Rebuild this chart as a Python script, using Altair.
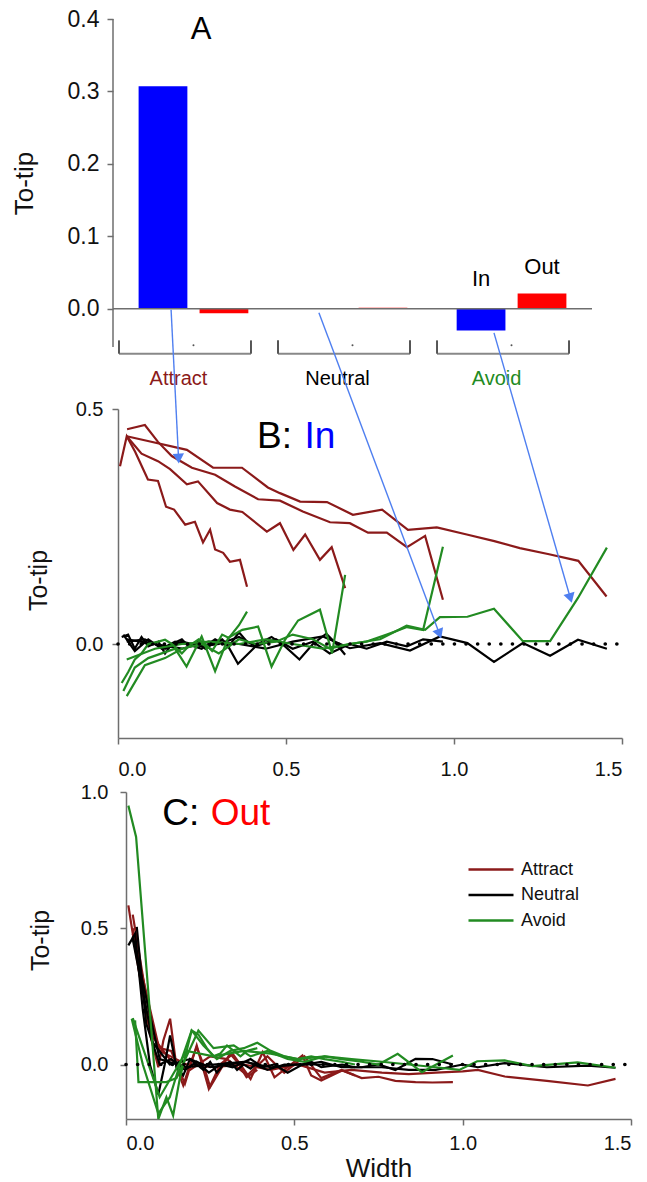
import math
import altair as alt
import pandas as pd

FONT = "Liberation Sans"
GROUPS = ["Attract", "Neutral", "Avoid"]
GROUP_COLORS = ["#8b1a1a", "#000000", "#228b22"]
DIRS = ["In", "Out"]
DIR_COLORS = ["#0000ff", "#ff0000"]
AXIS_GRAY = "#6e6e6e"
ARROW_BLUE = "#4f7ff0"

# ---------------- Panel A : bars ----------------
BAR_GROUP = ["Attract", "Attract", "Neutral", "Neutral", "Avoid", "Avoid"]
BAR_DIR = ["In", "Out", "In", "Out", "In", "Out"]
BAR_VALUE = [0.307, -0.0065, 0.0, 0.0012, -0.030, 0.021]
A_TICKS = [0.0, 0.1, 0.2, 0.3, 0.4]
INOUT_GROUP = ["Avoid", "Avoid"]
INOUT_DIR = ["In", "Out"]
INOUT_Y = [0.041, 0.058]

# ---------------- Panel B : "In" profiles ----------------
BA1_X = [0.006, 0.026, 0.051, 0.089, 0.119, 0.143, 0.167, 0.200, 0.229, 0.253, 0.274, 0.289, 0.313, 0.333, 0.363, 0.384]
BA1_Y = [0.378, 0.442, 0.409, 0.350, 0.347, 0.292, 0.286, 0.254, 0.260, 0.216, 0.243, 0.201, 0.194, 0.175, 0.179, 0.122]
BA2_X = [0.026, 0.070, 0.119, 0.155, 0.205, 0.238, 0.295, 0.333, 0.370, 0.443, 0.482, 0.522, 0.557, 0.601, 0.636, 0.676]
BA2_Y = [0.442, 0.405, 0.389, 0.372, 0.340, 0.346, 0.300, 0.286, 0.281, 0.239, 0.257, 0.200, 0.233, 0.179, 0.206, 0.119]
BA3_X = [0.027, 0.080, 0.119, 0.160, 0.220, 0.289, 0.348, 0.417, 0.482, 0.550, 0.631, 0.690, 0.744, 0.800, 0.860, 0.914, 0.967]
BA3_Y = [0.457, 0.466, 0.430, 0.400, 0.375, 0.360, 0.335, 0.308, 0.305, 0.282, 0.259, 0.257, 0.237, 0.237, 0.206, 0.230, 0.094]
BA4_X = [0.026, 0.089, 0.205, 0.283, 0.369, 0.446, 0.482, 0.542, 0.622, 0.699, 0.786, 0.863, 0.949, 1.038, 1.120, 1.196, 1.283, 1.370, 1.454]
BA4_Y = [0.442, 0.432, 0.413, 0.375, 0.375, 0.333, 0.321, 0.303, 0.302, 0.275, 0.286, 0.243, 0.248, 0.233, 0.219, 0.204, 0.191, 0.177, 0.101]

BN1_X = [0.011, 0.030, 0.050, 0.070, 0.090, 0.120, 0.140, 0.160, 0.190, 0.210, 0.240, 0.260, 0.280, 0.310, 0.330, 0.360, 0.384]
BN1_Y = [0.015, 0.020, -0.010, 0.015, -0.005, 0.005, -0.020, 0.000, 0.010, -0.005, 0.005, -0.010, 0.000, 0.010, -0.005, 0.025, 0.005]
BN2_X = [0.016, 0.050, 0.090, 0.130, 0.170, 0.204, 0.249, 0.289, 0.328, 0.357, 0.417, 0.457, 0.497, 0.540, 0.580, 0.620, 0.650, 0.676]
BN2_Y = [0.020, -0.015, 0.010, -0.010, 0.005, 0.000, -0.010, 0.010, -0.005, -0.042, 0.000, 0.015, -0.005, -0.033, 0.000, 0.022, 0.000, -0.023]
BN3_X = [0.026, 0.080, 0.140, 0.190, 0.250, 0.300, 0.360, 0.410, 0.470, 0.520, 0.580, 0.630, 0.690, 0.740, 0.800, 0.860, 0.908, 0.967]
BN3_Y = [0.005, 0.010, -0.010, 0.005, -0.005, 0.000, 0.015, -0.005, 0.010, -0.010, 0.005, -0.020, 0.000, -0.010, 0.005, -0.005, 0.010, 0.005]
BN4_X = [0.026, 0.110, 0.190, 0.270, 0.360, 0.440, 0.520, 0.610, 0.690, 0.780, 0.869, 0.958, 1.040, 1.119, 1.205, 1.286, 1.369, 1.455]
BN4_Y = [0.010, 0.000, -0.010, 0.005, 0.000, -0.010, 0.005, 0.016, -0.009, 0.002, -0.014, 0.016, 0.002, -0.038, 0.002, -0.025, 0.009, -0.010]

BG1_X = [0.011, 0.030, 0.050, 0.070, 0.090, 0.120, 0.140, 0.160, 0.190, 0.210, 0.240, 0.260, 0.280, 0.310, 0.330, 0.360, 0.384]
BG1_Y = [-0.083, -0.060, -0.033, -0.020, 0.000, 0.005, 0.009, 0.000, -0.020, -0.005, 0.010, 0.000, -0.015, 0.020, 0.013, 0.040, 0.069]
BG2_X = [0.016, 0.050, 0.090, 0.130, 0.170, 0.204, 0.249, 0.289, 0.328, 0.370, 0.417, 0.457, 0.497, 0.536, 0.601, 0.637, 0.676]
BG2_Y = [-0.100, -0.050, -0.030, -0.020, -0.010, -0.048, 0.016, -0.058, 0.013, 0.030, 0.037, -0.048, 0.009, 0.050, 0.073, -0.020, 0.147]
BG3_X = [0.026, 0.080, 0.140, 0.190, 0.250, 0.300, 0.360, 0.410, 0.470, 0.520, 0.580, 0.630, 0.690, 0.740, 0.800, 0.860, 0.908, 0.967]
BG3_Y = [-0.111, -0.045, -0.030, -0.010, 0.000, -0.020, 0.010, 0.000, 0.005, 0.020, 0.010, -0.010, 0.000, 0.005, 0.020, 0.036, 0.030, 0.207]
BG4_X = [0.026, 0.110, 0.190, 0.270, 0.360, 0.440, 0.520, 0.610, 0.690, 0.780, 0.859, 0.914, 0.958, 1.040, 1.119, 1.205, 1.286, 1.369, 1.455]
BG4_Y = [-0.033, -0.010, 0.000, 0.005, 0.000, 0.010, 0.000, -0.010, 0.000, 0.010, 0.039, 0.030, 0.057, 0.058, 0.075, 0.006, 0.006, 0.098, 0.205]

# ---------------- Panel C : "Out" profiles ----------------
CA1_X = [0.007, 0.017, 0.040, 0.061, 0.071, 0.096, 0.111, 0.131, 0.150, 0.170, 0.190, 0.210, 0.230, 0.250, 0.280, 0.309, 0.330, 0.358, 0.390]
CA1_Y = [0.584, 0.504, 0.330, 0.186, 0.113, -0.010, 0.088, 0.168, -0.010, -0.077, 0.000, 0.064, 0.000, -0.083, -0.020, 0.040, 0.010, -0.047, -0.020]
CA2_X = [0.020, 0.060, 0.100, 0.134, 0.175, 0.210, 0.246, 0.280, 0.317, 0.370, 0.406, 0.441, 0.480, 0.524, 0.550, 0.580, 0.642, 0.680]
CA2_Y = [0.500, 0.190, 0.060, 0.050, -0.071, 0.070, -0.089, 0.000, 0.039, -0.053, 0.045, -0.047, -0.010, 0.033, -0.040, -0.059, -0.022, -0.040]
CA3_X = [0.020, 0.080, 0.130, 0.190, 0.250, 0.300, 0.360, 0.420, 0.470, 0.530, 0.580, 0.640, 0.700, 0.750, 0.800, 0.860, 0.910, 0.971]
CA3_Y = [0.550, 0.100, 0.020, -0.020, 0.030, 0.020, -0.040, 0.030, -0.030, 0.030, -0.050, -0.020, -0.050, -0.045, -0.060, -0.065, -0.066, -0.065]
CA4_X = [0.020, 0.100, 0.180, 0.260, 0.350, 0.430, 0.510, 0.590, 0.670, 0.760, 0.840, 0.920, 1.000, 1.045, 1.125, 1.250, 1.372, 1.454]
CA4_Y = [0.480, 0.050, 0.000, -0.010, 0.000, -0.020, 0.000, -0.030, -0.020, -0.030, -0.035, -0.030, -0.025, -0.020, -0.044, -0.060, -0.077, -0.053]

CN1_X = [0.007, 0.027, 0.050, 0.071, 0.096, 0.115, 0.131, 0.150, 0.170, 0.190, 0.210, 0.230, 0.250, 0.270, 0.290, 0.310, 0.330, 0.350, 0.370, 0.390]
CN1_Y = [0.437, 0.480, 0.200, 0.000, -0.110, 0.000, 0.107, -0.010, -0.040, 0.020, 0.000, -0.020, 0.010, -0.030, 0.000, 0.010, -0.020, 0.000, -0.015, 0.005]
CN2_X = [0.032, 0.060, 0.100, 0.134, 0.175, 0.210, 0.246, 0.280, 0.317, 0.370, 0.406, 0.441, 0.480, 0.524, 0.550, 0.580, 0.642, 0.680]
CN2_Y = [0.505, 0.150, 0.000, 0.020, -0.020, 0.010, -0.030, 0.000, -0.010, 0.020, -0.010, 0.000, -0.030, 0.000, 0.010, -0.010, 0.000, -0.010]
CN3_X = [0.020, 0.080, 0.130, 0.190, 0.250, 0.300, 0.360, 0.420, 0.470, 0.530, 0.580, 0.640, 0.700, 0.750, 0.800, 0.860, 0.910, 0.971]
CN3_Y = [0.460, 0.080, 0.000, 0.020, -0.010, 0.000, 0.010, -0.020, 0.000, 0.000, 0.010, -0.010, -0.010, 0.000, -0.020, 0.021, 0.020, 0.000]
CN4_X = [0.020, 0.100, 0.180, 0.260, 0.350, 0.430, 0.510, 0.590, 0.670, 0.760, 0.840, 0.920, 1.000, 1.045, 1.125, 1.250, 1.372, 1.454]
CN4_Y = [0.470, 0.020, -0.010, 0.000, 0.010, -0.010, 0.000, 0.000, -0.010, -0.010, -0.020, -0.020, 0.000, -0.010, 0.005, -0.010, -0.004, -0.012]

CG1_X = [0.007, 0.030, 0.096, 0.120, 0.140, 0.160, 0.195, 0.215, 0.240, 0.260, 0.280, 0.300, 0.320, 0.340, 0.360, 0.390]
CG1_Y = [0.950, 0.835, -0.200, -0.120, -0.187, -0.050, 0.125, 0.110, 0.060, 0.030, 0.040, 0.070, 0.050, 0.030, 0.050, 0.060]
CG2_X = [0.017, 0.050, 0.096, 0.130, 0.160, 0.195, 0.230, 0.270, 0.310, 0.350, 0.390, 0.430, 0.470, 0.510, 0.550, 0.590, 0.640, 0.680]
CG2_Y = [0.168, 0.000, -0.180, -0.120, 0.000, 0.125, 0.070, 0.020, 0.050, 0.060, 0.080, 0.050, 0.030, 0.020, 0.030, 0.020, 0.010, 0.000]
CG3_X = [0.027, 0.037, 0.118, 0.150, 0.215, 0.260, 0.320, 0.370, 0.420, 0.480, 0.530, 0.590, 0.640, 0.700, 0.750, 0.807, 0.879, 0.971]
CG3_Y = [0.162, -0.065, -0.065, -0.050, 0.125, 0.060, 0.070, 0.030, 0.050, 0.020, 0.010, 0.030, 0.020, 0.010, 0.000, 0.039, -0.028, 0.033]
CG4_X = [0.020, 0.100, 0.180, 0.260, 0.350, 0.430, 0.510, 0.590, 0.670, 0.760, 0.840, 0.920, 0.990, 1.043, 1.125, 1.207, 1.341, 1.454]
CG4_Y = [0.170, -0.120, 0.050, 0.030, 0.050, 0.040, 0.020, 0.030, 0.020, 0.010, 0.000, -0.010, -0.020, 0.012, 0.015, -0.006, 0.008, -0.012]

# arrows from panel A into panel B (in panel-B data units)
ARROW_X0 = [0.158, 0.598, 1.119]
ARROW_Y0 = [0.711, 0.705, 0.662]
ARROW_X1 = [0.180, 0.955, 1.345]
ARROW_Y1 = [0.398, 0.025, 0.101]

# panel annotations
B_TITLE_X = [0.414, 0.555]
B_TITLE_Y = [0.417, 0.417]
B_TITLE_TXT = ["B:", "In"]
C_TITLE_X = [0.108, 0.2515]
C_TITLE_Y = [0.878, 0.878]
C_TITLE_TXT = ["C:", "Out"]

# ---------------- layout ----------------
A_W, A_H = 479, 336
B_W, B_H = 509, 329
C_W, C_H = 518, 327
B_RANGE = [5, 509]
C_RANGE = [13, 518]
A_DOMAIN = [-0.064, 0.4]
B_DOMAIN = [-0.2, 0.5]
C_DOMAIN = [-0.2, 1.0]


def lines_frame(spec):
    rows = []
    for grp, lid, xs, ys in spec:
        for i, (x, y) in enumerate(zip(xs, ys)):
            rows.append({"group": grp, "line": lid, "idx": i, "x": x, "y": y})
    return pd.DataFrame(rows)


b_df = lines_frame([
    ("Attract", "a1", BA1_X, BA1_Y), ("Attract", "a2", BA2_X, BA2_Y),
    ("Attract", "a3", BA3_X, BA3_Y), ("Attract", "a4", BA4_X, BA4_Y),
    ("Neutral", "n1", BN1_X, BN1_Y), ("Neutral", "n2", BN2_X, BN2_Y),
    ("Neutral", "n3", BN3_X, BN3_Y), ("Neutral", "n4", BN4_X, BN4_Y),
    ("Avoid", "g1", BG1_X, BG1_Y), ("Avoid", "g2", BG2_X, BG2_Y),
    ("Avoid", "g3", BG3_X, BG3_Y), ("Avoid", "g4", BG4_X, BG4_Y),
])
c_df = lines_frame([
    ("Attract", "a1", CA1_X, CA1_Y), ("Attract", "a2", CA2_X, CA2_Y),
    ("Attract", "a3", CA3_X, CA3_Y), ("Attract", "a4", CA4_X, CA4_Y),
    ("Neutral", "n1", CN1_X, CN1_Y), ("Neutral", "n2", CN2_X, CN2_Y),
    ("Neutral", "n3", CN3_X, CN3_Y), ("Neutral", "n4", CN4_X, CN4_Y),
    ("Avoid", "g1", CG1_X, CG1_Y), ("Avoid", "g2", CG2_X, CG2_Y),
    ("Avoid", "g3", CG3_X, CG3_Y), ("Avoid", "g4", CG4_X, CG4_Y),
])

# ---------------- Panel A ----------------
XA = alt.Scale(domain=GROUPS, paddingInner=0.31, paddingOuter=0.161)
XOA = alt.Scale(domain=DIRS, paddingInner=0.2, paddingOuter=0)
YA = alt.Scale(domain=A_DOMAIN, nice=False, zero=False)
A_YAXIS = alt.Axis(
    values=A_TICKS, format=".1f", title="To-tip", domain=False, tickSize=6,
    labelFontSize=23, labelPadding=8, titleFontSize=26, titleFontWeight="normal",
    titleAngle=270, titleAlign="center", titleBaseline="middle", titleX=-89, titleY=164)

bars_df = pd.DataFrame({"group": BAR_GROUP, "dir": BAR_DIR, "value": BAR_VALUE})
grp_df = pd.DataFrame({"group": GROUPS})
one_df = pd.DataFrame({"k": [0]})

a_bars = alt.Chart(bars_df).mark_bar().encode(
    x=alt.X("group:N", scale=XA, axis=None, sort=GROUPS),
    xOffset=alt.XOffset("dir:N", scale=XOA),
    y=alt.Y("value:Q", scale=YA, axis=A_YAXIS, title="To-tip"),
    color=alt.Color("dir:N", scale=alt.Scale(domain=DIRS, range=DIR_COLORS), legend=None),
)
a_zero = alt.Chart(one_df).mark_rule(color=AXIS_GRAY, strokeWidth=1.5).encode(
    y=alt.datum(0, scale=YA, axis=A_YAXIS, title="To-tip"))
a_axisline = alt.Chart(one_df).mark_rule(color=AXIS_GRAY, strokeWidth=1.5).encode(
    x=alt.value(0), y=alt.datum(-0.053, scale=YA, axis=A_YAXIS, title="To-tip"), y2=alt.datum(A_TICKS[-1]))
br_h = alt.Chart(grp_df).mark_tick(color="#555555", size=132, thickness=2, xOffset=-8.5).encode(
    x=alt.X("group:N", scale=XA, axis=None), y=alt.datum(-0.0622, scale=YA, axis=A_YAXIS, title="To-tip"))
br_l = alt.Chart(grp_df).mark_rule(color="#555555", strokeWidth=2, xOffset=-74.5).encode(
    x=alt.X("group:N", scale=XA, axis=None), y=alt.datum(-0.0438, scale=YA, axis=A_YAXIS, title="To-tip"),
    y2=alt.datum(-0.0622))
br_r = alt.Chart(grp_df).mark_rule(color="#555555", strokeWidth=2, xOffset=57.5).encode(
    x=alt.X("group:N", scale=XA, axis=None), y=alt.datum(-0.0438, scale=YA, axis=A_YAXIS, title="To-tip"),
    y2=alt.datum(-0.0622))
br_dot = alt.Chart(grp_df).mark_circle(color="#555555", size=4, opacity=1).encode(
    x=alt.X("group:N", scale=XA, axis=None), y=alt.datum(-0.0507, scale=YA, axis=A_YAXIS, title="To-tip"))
cat_text = alt.Chart(grp_df).mark_text(font=FONT, fontSize=20, dx=-15, baseline="middle").encode(
    x=alt.X("group:N", scale=XA, axis=None), y=alt.datum(-0.0967, scale=YA, axis=A_YAXIS, title="To-tip"),
    text="group:N",
    fill=alt.Fill("group:N", scale=alt.Scale(domain=GROUPS, range=GROUP_COLORS), legend=None))
a_label = alt.Chart(pd.DataFrame({"group": ["Attract"], "y": [0.373], "t": ["A"]})).mark_text(
    font=FONT, fontSize=31, dx=7.5, baseline="alphabetic", color="black").encode(
    x=alt.X("group:N", scale=XA, axis=None), y=alt.Y("y:Q", scale=YA, axis=A_YAXIS, title="To-tip"),
    text="t:N")
inout = alt.Chart(pd.DataFrame({"group": INOUT_GROUP, "dir": INOUT_DIR, "y": INOUT_Y})).mark_text(
    font=FONT, fontSize=22, baseline="middle", color="black").encode(
    x=alt.X("group:N", scale=XA, axis=None), xOffset=alt.XOffset("dir:N", scale=XOA),
    y=alt.Y("y:Q", scale=YA, axis=A_YAXIS, title="To-tip"), text="dir:N")

panel_a = alt.layer(a_bars, a_zero, a_axisline, br_h, br_l, br_r, br_dot, cat_text, a_label, inout).properties(
    width=A_W, height=A_H).resolve_scale(color="independent")

# ---------------- Panel B ----------------
XB = alt.Scale(domain=[0, 1.5], range=B_RANGE, nice=False, zero=False)
YB = alt.Scale(domain=B_DOMAIN, nice=False, zero=False)
COLOR_SCALE = alt.Scale(domain=GROUPS, range=GROUP_COLORS)
B_XAXIS = alt.Axis(values=[0, 0.5, 1.0, 1.5], format=".1f", title=None,
                   tickSize=6, labelFontSize=20, labelPadding=15)
B_YAXIS = alt.Axis(values=[0, 0.5], format=".1f", title="To-tip", tickSize=6,
                   offset=-5, labelFontSize=20, labelPadding=9,
                   titleFontSize=25, titleFontWeight="normal", titleAngle=270,
                   titleAlign="center", titleBaseline="middle", titleX=-80, titleY=171)

b_lines = alt.Chart(b_df).mark_line(strokeWidth=2.2).encode(
    x=alt.X("x:Q", scale=XB, axis=B_XAXIS, title=None),
    y=alt.Y("y:Q", scale=YB, axis=B_YAXIS, title="To-tip"),
    color=alt.Color("group:N", scale=COLOR_SCALE, legend=None),
    detail="line:N", order="idx:Q",
)
b_zero = alt.Chart(one_df).mark_rule(color="black", strokeWidth=3.6, strokeDash=[0.1, 11.5], strokeCap="round").encode(
    x=alt.datum(0, scale=XB, axis=B_XAXIS, title=None), x2=alt.datum(1.5),
    y=alt.datum(0, scale=YB, axis=B_YAXIS, title="To-tip"))

px_x = (B_RANGE[1] - B_RANGE[0]) / 1.5
px_y = B_H / (B_DOMAIN[1] - B_DOMAIN[0])
angles = []
for x0, y0, x1, y1 in zip(ARROW_X0, ARROW_Y0, ARROW_X1, ARROW_Y1):
    dx = (x1 - x0) * px_x
    dy = -(y1 - y0) * px_y
    angles.append(math.degrees(math.atan2(dx, -dy)) % 360)
arrow_df = pd.DataFrame({"x0": ARROW_X0, "y0": ARROW_Y0, "x1": ARROW_X1, "y1": ARROW_Y1, "ang": angles})
b_arrows = alt.Chart(arrow_df).mark_rule(color=ARROW_BLUE, strokeWidth=1.4).encode(
    x=alt.X("x0:Q", scale=XB, axis=B_XAXIS, title=None),
    y=alt.Y("y0:Q", scale=YB, axis=B_YAXIS, title="To-tip"), x2="x1:Q", y2="y1:Q")
b_heads = alt.Chart(arrow_df).mark_point(shape="triangle", filled=True, size=130, color=ARROW_BLUE, opacity=1).encode(
    x=alt.X("x1:Q", scale=XB, axis=B_XAXIS, title=None),
    y=alt.Y("y1:Q", scale=YB, axis=B_YAXIS, title="To-tip"),
    angle=alt.Angle("ang:Q", scale=None))
b_title_df = pd.DataFrame({"x": B_TITLE_X, "y": B_TITLE_Y, "t": B_TITLE_TXT})
b_title = alt.Chart(b_title_df).mark_text(font=FONT, fontSize=37, align="left", baseline="alphabetic").encode(
    x=alt.X("x:Q", scale=XB, axis=B_XAXIS, title=None),
    y=alt.Y("y:Q", scale=YB, axis=B_YAXIS, title="To-tip"), text="t:N",
    fill=alt.Fill("t:N", scale=alt.Scale(domain=B_TITLE_TXT, range=["#000000", "#0000ff"]), legend=None))

panel_b = alt.layer(b_lines, b_zero, b_arrows, b_heads, b_title).properties(width=B_W, height=B_H)

# ---------------- Panel C ----------------
XC = alt.Scale(domain=[0, 1.5], range=C_RANGE, nice=False, zero=False)
YC = alt.Scale(domain=C_DOMAIN, nice=False, zero=False)
C_XAXIS = alt.Axis(values=[0, 0.5, 1.0, 1.5], format=".1f", title="Width",
                   tickSize=6, labelFontSize=20, labelPadding=8,
                   titleFontSize=26, titleFontWeight="normal", titlePadding=2)
C_YAXIS = alt.Axis(values=[0, 0.5, 1.0], format=".1f", title="To-tip", tickSize=6,
                   offset=-13, labelFontSize=20, labelPadding=12,
                   titleFontSize=25, titleFontWeight="normal", titleAngle=270,
                   titleAlign="center", titleBaseline="middle", titleX=-86, titleY=148)

c_lines = alt.Chart(c_df).mark_line(strokeWidth=2.2).encode(
    x=alt.X("x:Q", scale=XC, axis=C_XAXIS, title="Width"),
    y=alt.Y("y:Q", scale=YC, axis=C_YAXIS, title="To-tip"),
    color=alt.Color("group:N", scale=COLOR_SCALE, legend=alt.Legend(
        orient="none", legendX=367.5, legendY=67, title=None, padding=0,
        symbolType="M-2.5,0H2.5", symbolSize=324, symbolStrokeWidth=2.5,
        labelFont=FONT, labelFontSize=18, labelOffset=19.5, rowPadding=5.5, labelColor="#111111")),
    detail="line:N", order="idx:Q",
)
c_zero = alt.Chart(one_df).mark_rule(color="black", strokeWidth=3.6, strokeDash=[0.1, 11.5], strokeCap="round").encode(
    x=alt.datum(0, scale=XC, axis=C_XAXIS, title="Width"), x2=alt.datum(1.5),
    y=alt.datum(0, scale=YC, axis=C_YAXIS, title="To-tip"))
c_title_df = pd.DataFrame({"x": C_TITLE_X, "y": C_TITLE_Y, "t": C_TITLE_TXT})
c_title = alt.Chart(c_title_df).mark_text(font=FONT, fontSize=37, align="left", baseline="alphabetic").encode(
    x=alt.X("x:Q", scale=XC, axis=C_XAXIS, title="Width"),
    y=alt.Y("y:Q", scale=YC, axis=C_YAXIS, title="To-tip"), text="t:N",
    fill=alt.Fill("t:N", scale=alt.Scale(domain=C_TITLE_TXT, range=["#000000", "#ff0000"]), legend=None))

panel_c = alt.layer(c_lines, c_zero, c_title).properties(width=C_W, height=C_H)

chart = alt.vconcat(panel_a, panel_b, panel_c, spacing=54, bounds="flush").resolve_scale(
    color="independent", fill="independent").properties(
    padding={"left": 11, "top": 8, "right": 2, "bottom": 2}
).configure_view(stroke=None).configure_axis(
    domainColor=AXIS_GRAY, tickColor=AXIS_GRAY, domainWidth=1.5, tickWidth=1.5,
    labelColor="#111111", titleColor="#111111", labelFont=FONT, titleFont=FONT, grid=False,
).configure_text(font=FONT)

chart.save("out.html", embed_options={"renderer": "svg", "actions": False})
